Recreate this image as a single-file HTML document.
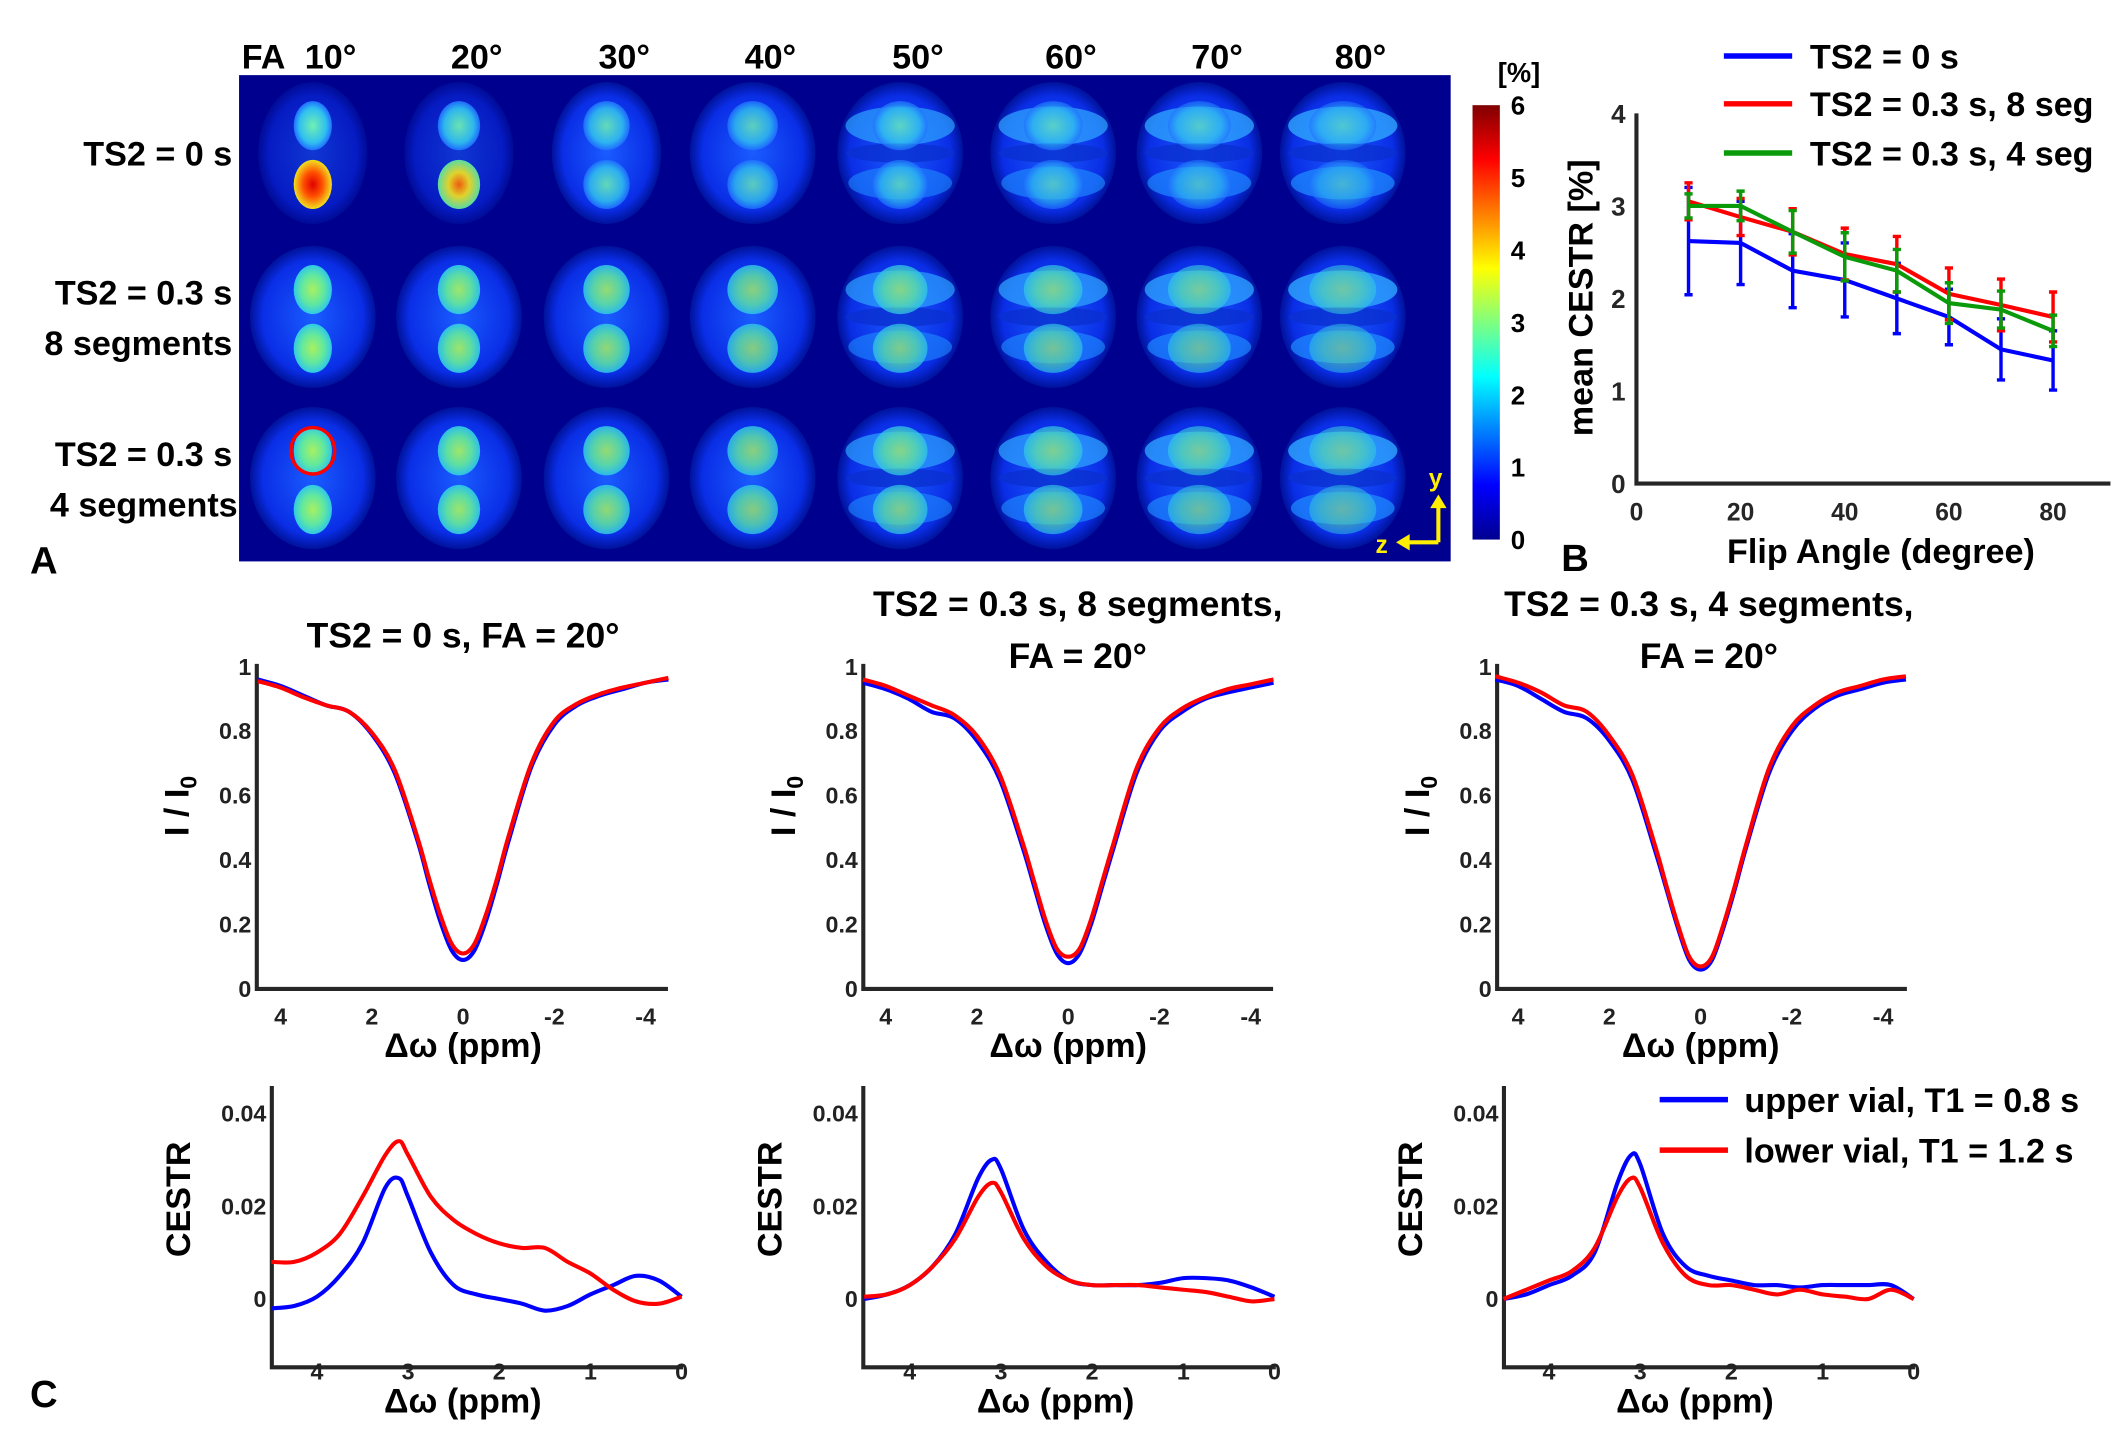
<!DOCTYPE html>
<html><head><meta charset="utf-8">
<style>
html,body{margin:0;padding:0;background:#fff;}
svg{display:block;}
text{font-family:"Liberation Sans",sans-serif;font-weight:bold;fill:#000;}
.tk{font-size:17px;fill:#222;}
</style></head>
<body>
<svg id="fig" width="2120" height="1437" viewBox="0 0 1552 1052" preserveAspectRatio="none" xmlns="http://www.w3.org/2000/svg">
<defs>
<linearGradient id="jet" x1="0" y1="1" x2="0" y2="0">
<stop offset="0" stop-color="#00008f"/><stop offset="0.125" stop-color="#0000ff"/>
<stop offset="0.375" stop-color="#00ffff"/><stop offset="0.625" stop-color="#ffff00"/>
<stop offset="0.875" stop-color="#ff0000"/><stop offset="1" stop-color="#800000"/>
</linearGradient>
<radialGradient id="bg"><stop offset="0" stop-color="#1a5cff"/><stop offset="0.8" stop-color="#0a2ee6"/><stop offset="1" stop-color="#00129a"/></radialGradient>
<radialGradient id="vg"><stop offset="0" stop-color="#a8f060"/><stop offset="0.6" stop-color="#60e8a0"/><stop offset="1" stop-color="#30c8e8"/></radialGradient>
<radialGradient id="vc"><stop offset="0" stop-color="#70f0b0"/><stop offset="0.7" stop-color="#30c0f0"/><stop offset="1" stop-color="#2070ff"/></radialGradient>
<radialGradient id="vr"><stop offset="0" stop-color="#e00000"/><stop offset="0.5" stop-color="#ff5000"/><stop offset="1" stop-color="#f0e020"/></radialGradient>
<radialGradient id="vy"><stop offset="0" stop-color="#ff6000"/><stop offset="0.5" stop-color="#f0e020"/><stop offset="1" stop-color="#60e8a0"/></radialGradient>
</defs>
<g id="panelA"></g>
<g id="panelB"></g>
<g id="panelC"></g>
</svg>
<script>
// ===== Panel B data =====
const flipAngles=[10,20,30,40,50,60,70,80];
const cestBlue=[2.62,2.6,2.3,2.2,2.0,1.8,1.45,1.33];
const errBlue=[0.58,0.45,0.4,0.4,0.38,0.3,0.33,0.32];
const cestRed=[3.05,2.88,2.72,2.48,2.37,2.05,1.93,1.8];
const errRed=[0.2,0.2,0.25,0.28,0.3,0.28,0.28,0.27];
const cestGreen=[3.0,3.0,2.72,2.45,2.3,1.95,1.88,1.65];
const errGreen=[0.13,0.16,0.23,0.26,0.23,0.22,0.2,0.17];
const bXTicks=[0,20,40,60,80];
const bYTicks=[0,1,2,3,4];
const bLegend=["TS2 = 0 s","TS2 = 0.3 s, 8 seg","TS2 = 0.3 s, 4 seg"];
// ===== Panel C data =====
const zPpm=[4.5,4,3.5,3,2.5,2,1.5,1,0.75,0.5,0.25,0,-0.25,-0.5,-0.75,-1,-1.5,-2,-2.5,-3,-3.5,-4,-4.5];
const z1Blue=[0.96,0.94,0.91,0.88,0.86,0.79,0.67,0.46,0.33,0.21,0.12,0.09,0.12,0.21,0.33,0.46,0.69,0.82,0.88,0.91,0.93,0.95,0.96];
const z1Red=[0.955,0.935,0.905,0.88,0.86,0.795,0.68,0.47,0.345,0.23,0.14,0.11,0.14,0.23,0.345,0.475,0.7,0.83,0.885,0.915,0.935,0.95,0.965];
const z2Blue=[0.95,0.93,0.9,0.86,0.84,0.77,0.65,0.44,0.32,0.2,0.11,0.08,0.11,0.2,0.32,0.44,0.67,0.8,0.86,0.9,0.92,0.935,0.95];
const z2Red=[0.96,0.94,0.91,0.88,0.85,0.785,0.665,0.455,0.335,0.215,0.125,0.1,0.125,0.215,0.335,0.455,0.685,0.81,0.87,0.905,0.93,0.945,0.96];
const z3Blue=[0.96,0.94,0.9,0.86,0.84,0.77,0.65,0.43,0.31,0.19,0.09,0.06,0.09,0.19,0.31,0.44,0.67,0.8,0.87,0.91,0.93,0.95,0.96];
const z3Red=[0.97,0.95,0.92,0.88,0.86,0.785,0.665,0.445,0.32,0.2,0.1,0.07,0.1,0.2,0.32,0.45,0.685,0.815,0.88,0.92,0.94,0.96,0.97];
const cPpm=[4.5,4.25,4,3.75,3.5,3.25,3.1,3,2.75,2.5,2.25,2,1.75,1.5,1.25,1,0.75,0.5,0.25,0];
const c1Blue=[-0.002,-0.0015,0.0005,0.005,0.012,0.024,0.026,0.022,0.01,0.003,0.001,0,-0.001,-0.0025,-0.0015,0.001,0.003,0.005,0.004,0.0005];
const c1Red=[0.008,0.008,0.01,0.014,0.022,0.031,0.034,0.031,0.022,0.017,0.014,0.012,0.011,0.011,0.008,0.0055,0.002,-0.0005,-0.001,0.0005];
const c2Blue=[0.0,0.001,0.003,0.007,0.014,0.026,0.03,0.028,0.015,0.008,0.004,0.003,0.003,0.003,0.0035,0.0045,0.0045,0.004,0.0025,0.0005];
const c2Red=[0.0005,0.001,0.003,0.007,0.013,0.022,0.025,0.023,0.013,0.007,0.004,0.003,0.003,0.003,0.0025,0.002,0.0015,0.0005,-0.0005,0.0];
const c3Blue=[0.0,0.001,0.003,0.005,0.01,0.025,0.031,0.029,0.014,0.007,0.005,0.004,0.003,0.003,0.0025,0.003,0.003,0.003,0.003,0.0];
const c3Red=[0.0,0.002,0.004,0.006,0.011,0.022,0.026,0.024,0.012,0.005,0.003,0.003,0.002,0.001,0.002,0.001,0.0005,0.0,0.002,0.0];
const zXTicks=[4,2,0,-2,-4];
const zYTicks=[0,0.2,0.4,0.6,0.8,1];
const cXTicks=[4,3,2,1,0];
const cYTicks=[0,0.02,0.04];
const cLegend=["upper vial, T1 = 0.8 s","lower vial, T1 = 1.2 s"];
// ===== Panel A data =====
const faLabels=["10°","20°","30°","40°","50°","60°","70°","80°"];
const rowLabels=[["TS2 = 0 s"],["TS2 = 0.3 s","8 segments"],["TS2 = 0.3 s","4 segments"]];
const cbTicks=[0,1,2,3,4,5,6];

const NS="http://www.w3.org/2000/svg";
function mk(parent,tag,attrs,txt){const e=document.createElementNS(NS,tag);for(const k in attrs)e.setAttribute(k,attrs[k]);if(txt!==undefined)e.textContent=txt;parent.appendChild(e);return e;}
function smooth(pts){
  let d='M'+pts[0][0]+' '+pts[0][1];
  for(let i=0;i<pts.length-1;i++){
    const p0=pts[Math.max(0,i-1)],p1=pts[i],p2=pts[i+1],p3=pts[Math.min(pts.length-1,i+2)];
    const c1x=p1[0]+(p2[0]-p0[0])/6,c1y=p1[1]+(p2[1]-p0[1])/6;
    const c2x=p2[0]-(p3[0]-p1[0])/6,c2y=p2[1]-(p3[1]-p1[1])/6;
    d+=` C${c1x} ${c1y} ${c2x} ${c2y} ${p2[0]} ${p2[1]}`;
  }
  return d;
}

// ---------- Panel A ----------
const A=document.getElementById('panelA');
let r=mk(A,'rect',{x:175,y:55,width:887,height:356,fill:'#00008f'});


const colX=[229,336,444,551,659,771,878,983];
const rowY=[112,232,350];
let t=mk(A,'text',{x:177,y:50,'font-size':25},'FA');


faLabels.forEach((f,i)=>{
  const tt=mk(A,'text',{x:colX[i]+13,y:50,'font-size':25,'text-anchor':'middle'},f);
  
  
});
rowLabels.forEach((ls,j)=>{
  ls.forEach((l,k)=>{
    const y= ls.length===1? rowY[j]+9 : rowY[j]-9+k*37;
    const tt=mk(A,'text',{x:j===2&&k===1?174:170,y:y,'font-size':25,'text-anchor':'end'},l);
    
    
  });
});
colX.forEach((cx,i)=>{
  rowY.forEach((cy,j)=>{
    const g=mk(A,'g',{});
    
    
    const w=46-(j===0&&i<3?6:0);
    mk(g,'ellipse',{cx:cx,cy:cy,rx:w,ry:52,fill:'url(#bg)',opacity:j===0&&i<2?0.6:1});
    const fade=i/7;
    if(i>=4){mk(g,'ellipse',{cx:cx,cy:cy-20,rx:40,ry:14,fill:'#30a8ff',opacity:0.5+0.3*fade});
             mk(g,'ellipse',{cx:cx,cy:cy+22,rx:38,ry:12,fill:'#2090ff',opacity:0.4+0.3*fade});
             mk(g,'ellipse',{cx:cx,cy:cy,rx:40,ry:7,fill:'#0a30d0',opacity:0.8});}
    const vrx=14+i*1.5, vry=18;
    const topFill=j===0?'url(#vc)':'url(#vg)';
    mk(g,'ellipse',{cx:cx,cy:cy-20,rx:vrx,ry:vry,fill:topFill,opacity:1-0.45*fade});
    const botFill=(j===0&&i===0)?'url(#vr)':(j===0&&i===1)?'url(#vy)':(j===0?'url(#vc)':'url(#vg)');
    mk(g,'ellipse',{cx:cx,cy:cy+23,rx:vrx,ry:vry,fill:botFill,opacity:1-0.5*fade});
  });
});
let roi=mk(A,'ellipse',{cx:229,cy:330,rx:16,ry:17,fill:'none',stroke:'#ff0000','stroke-width':2.5});


let ax=mk(A,'g',{});


mk(ax,'path',{d:'M1053 397 V370 M1053 397 H1030',stroke:'#ffee00','stroke-width':3,fill:'none'});
mk(ax,'path',{d:'M1047 372 L1053 362 L1059 372Z M1032 391 L1022 397 L1032 403Z',fill:'#ffee00'});
mk(ax,'text',{x:1046,y:356,'font-size':18,style:'fill:#ffee00'},'y');
mk(ax,'text',{x:1007,y:405,'font-size':18,style:'fill:#ffee00'},'z');
let cb=mk(A,'rect',{x:1078,y:77,width:20,height:318,fill:'url(#jet)'});


cbTicks.forEach(v=>{
  const y=395-v*(318/6);
  const tt=mk(A,'text',{x:1106,y:y+7,'font-size':19},String(v));
  
  
});
t=mk(A,'text',{x:1112,y:60,'font-size':20,'text-anchor':'middle'},'[%]');


t=mk(A,'text',{x:22,y:420,'font-size':28},'A');



// ---------- Panel B ----------
const B=document.getElementById('panelB');
const bx=v=>1198+v*(305/80), by=v=>354-v*(271/4);
let axl=mk(B,'path',{d:'M1198 83 V354 H1545',stroke:'#262626','stroke-width':3,fill:'none'});


bXTicks.forEach(v=>{const tt=mk(B,'text',{x:bx(v),y:381,'font-size':18,'text-anchor':'middle',style:'fill:#262626'},String(v));
  });
bYTicks.forEach(v=>{const tt=mk(B,'text',{x:1190,y:by(v)+7,'font-size':19,'text-anchor':'end',style:'fill:#262626'},String(v));
  });
t=mk(B,'text',{x:1377,y:412,'font-size':25,'text-anchor':'middle'},'Flip Angle (degree)');

t=mk(B,'text',{x:0,y:0,'font-size':25,'text-anchor':'middle',transform:'translate(1166,218) rotate(-90)'},'mean CESTR [%]');

t=mk(B,'text',{x:1143,y:418,'font-size':28},'B');

[[cestBlue,errBlue,'#0000ff','ts2-0'],[cestRed,errRed,'#ff0000','ts2-8seg'],[cestGreen,errGreen,'#0a9a0a','ts2-4seg']].forEach(([vals,errs,col,nm])=>{
  const g=mk(B,'g',{});
  
  
  vals.forEach((v,i)=>{
    const x=bx(flipAngles[i]);
    mk(g,'path',{d:`M${x} ${by(v-errs[i])} V${by(v+errs[i])} M${x-3} ${by(v-errs[i])} h6 M${x-3} ${by(v+errs[i])} h6`,stroke:col,'stroke-width':2.5,fill:'none'});
  });
  mk(g,'polyline',{points:vals.map((v,i)=>bx(flipAngles[i])+','+by(v)).join(' '),stroke:col,'stroke-width':3,fill:'none'});
});
const bCols=['#0000ff','#ff0000','#0a9a0a'];
bLegend.forEach((l,i)=>{
  const y=[41,76,112][i];
  const g=mk(B,'g',{});
  
  
  mk(g,'line',{x1:1262,x2:1312,y1:y,y2:y,stroke:bCols[i],'stroke-width':4});
  mk(g,'text',{x:1325,y:y+9,'font-size':25},l);
});

// ---------- Panel C ----------
const C=document.getElementById('panelC');
function zplot(x0,x1,zeroX,blue,red,titleLines,tcx,idx){
  const g=mk(C,'g',{});
  
  
  const sx=p=>zeroX-p*33.4, sy=v=>724-v*236;
  mk(g,'path',{d:`M${x0} 486 V724 H${x1}`,stroke:'#262626','stroke-width':3,fill:'none'});
  zXTicks.forEach(v=>mk(g,'text',{x:sx(v),y:750,'text-anchor':'middle',class:'tk'},String(v)));
  zYTicks.forEach(v=>mk(g,'text',{x:x0-4,y:sy(v)+6,'text-anchor':'end',class:'tk'},String(v)));
  mk(g,'path',{d:smooth(zPpm.map((p,i)=>[sx(p),sy(blue[i])])),stroke:'#0000ff','stroke-width':3,fill:'none'});
  mk(g,'path',{d:smooth(zPpm.map((p,i)=>[sx(p),sy(red[i])])),stroke:'#ff0000','stroke-width':3,fill:'none'});
  mk(g,'text',{x:zeroX,y:774,'font-size':25,'text-anchor':'middle'},'Δω (ppm)');
  const yl=mk(g,'text',{x:0,y:0,'font-size':25,'text-anchor':'middle',transform:`translate(${x0-50},590) rotate(-90)`});
  yl.appendChild(document.createTextNode('I / I'));
  mk(yl,'tspan',{'font-size':17,dy:6},'0');
  titleLines.forEach((l,k)=>mk(g,'text',{x:tcx,y:(titleLines.length===1?474:451)+k*38,'font-size':26,'text-anchor':'middle'},l));
}
zplot(188,489,339,z1Blue,z1Red,['TS2 = 0 s, FA = 20°'],339,1);
zplot(632,932,782,z2Blue,z2Red,['TS2 = 0.3 s, 8 segments,','FA = 20°'],789,2);
zplot(1096,1396,1245,z3Blue,z3Red,['TS2 = 0.3 s, 4 segments,','FA = 20°'],1251,3);
function cplot(x0,zeroX,blue,red,idx){
  const g=mk(C,'g',{});
  
  
  const sx=p=>zeroX-p*66.75, sy=v=>951-v*3400;
  mk(g,'path',{d:`M${x0} 795 V1001 H${zeroX+1}`,stroke:'#262626','stroke-width':3,fill:'none'});
  cXTicks.forEach(v=>mk(g,'text',{x:sx(v),y:1010,'text-anchor':'middle',class:'tk'},String(v)));
  cYTicks.forEach(v=>mk(g,'text',{x:x0-4,y:sy(v)+6,'text-anchor':'end',class:'tk'},String(v)));
  mk(g,'path',{d:smooth(cPpm.map((p,i)=>[sx(p),sy(blue[i])])),stroke:'#0000ff','stroke-width':3,fill:'none'});
  mk(g,'path',{d:smooth(cPpm.map((p,i)=>[sx(p),sy(red[i])])),stroke:'#ff0000','stroke-width':3,fill:'none'});
  mk(g,'text',{x:sx(2.4),y:1034,'font-size':25,'text-anchor':'middle'},'Δω (ppm)');
  mk(g,'text',{x:0,y:0,'font-size':25,'text-anchor':'middle',transform:`translate(${x0-60},878) rotate(-90)`},'CESTR');
}
cplot(199,499,c1Blue,c1Red,1);
cplot(632,933,c2Blue,c2Red,2);
cplot(1101,1401,c3Blue,c3Red,3);
const cCols=['#0000ff','#ff0000'];
cLegend.forEach((l,i)=>{
  const y=[805,842][i];
  const g=mk(C,'g',{});
  
  
  mk(g,'line',{x1:1215,x2:1265,y1:y,y2:y,stroke:cCols[i],'stroke-width':4});
  mk(g,'text',{x:1277,y:y+9,'font-size':25},l);
});
t=mk(C,'text',{x:22,y:1030,'font-size':28},'C');

</script>
</body></html>
